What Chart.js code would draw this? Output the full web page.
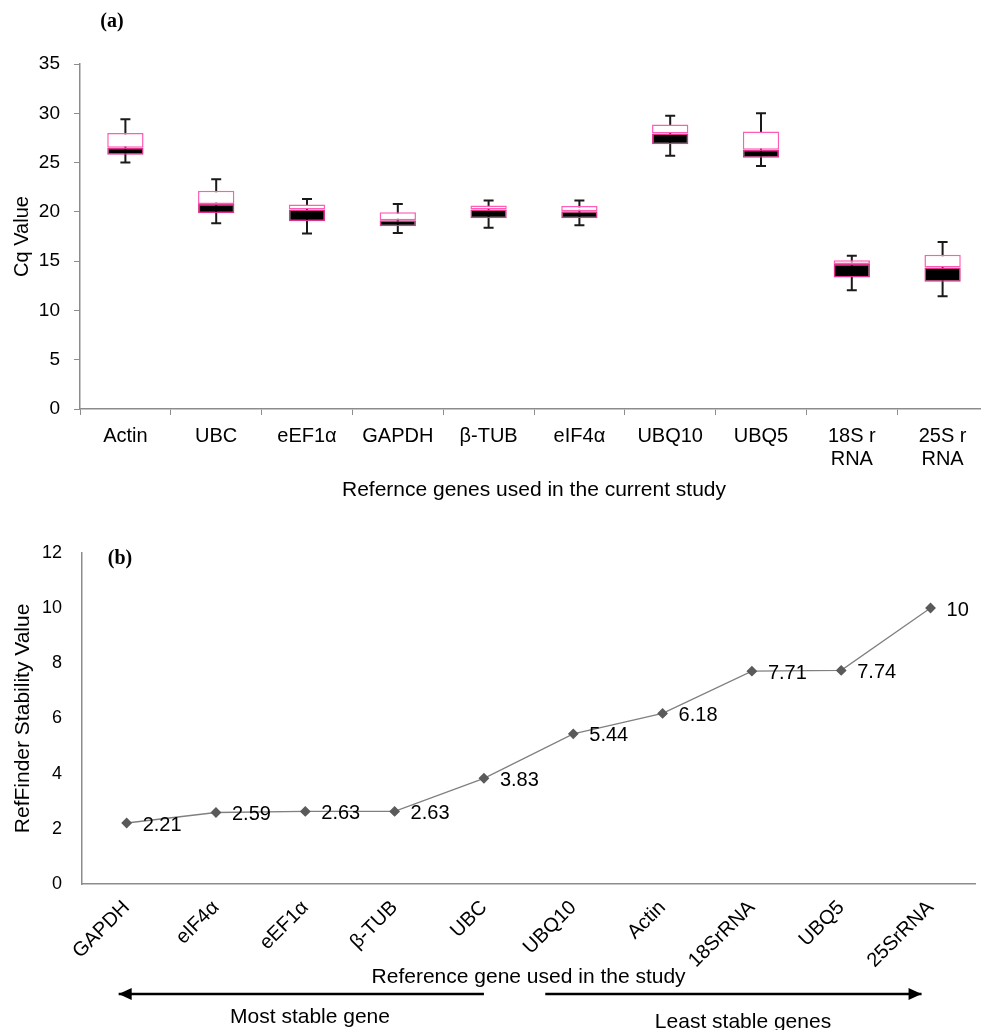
<!DOCTYPE html>
<html>
<head>
<meta charset="utf-8">
<script src="https://cdn.jsdelivr.net/npm/chart.js@4.4.1/dist/chart.umd.min.js"></script>
<style>
  html, body { margin: 0; padding: 0; background: #fff; overflow: hidden; width: 981px; height: 1030px; }
  #boxChart { position: absolute; left: 0; top: 0; }
  #lineChart { position: absolute; left: 0; top: 530px; }
</style>
</head>
<body>
<canvas id="boxChart" width="988" height="505"></canvas>
<canvas id="lineChart" width="981" height="500"></canvas>
<script>
// (a) Cq values per reference gene
const genesA = ['Actin', 'UBC', 'eEF1α', 'GAPDH', 'β-TUB', 'eIF4α', 'UBQ10', 'UBQ5', ['18S r', 'RNA'], ['25S r', 'RNA']];
const cqMin = [25.0, 18.85, 17.8, 17.85, 18.4, 18.65, 25.7, 24.65, 12.05, 11.45];
const cqQ1 = [25.8, 19.85, 19.05, 18.55, 19.35, 19.35, 26.85, 25.5, 13.35, 12.9];
const cqMedian = [26.5, 20.8, 20.25, 19.15, 20.25, 20.05, 27.95, 26.3, 14.7, 14.35];
const cqQ3 = [28.0, 22.15, 20.75, 19.95, 20.65, 20.6, 28.85, 28.15, 15.1, 15.65];
const cqMax = [29.4, 23.3, 21.3, 20.8, 21.15, 21.15, 29.75, 30.0, 15.55, 16.95];

// (b) RefFinder ranking
const genesB = ['GAPDH', 'eIF4α', 'eEF1α', 'β-TUB', 'UBC', 'UBQ10', 'Actin', '18SrRNA', 'UBQ5', '25SrRNA'];
const stability = [2.21, 2.59, 2.63, 2.63, 3.83, 5.44, 6.18, 7.71, 7.74, 10];

const FONT = "'Liberation Sans', Arial, sans-serif";
const AXIS = '#8c8c8c';

// whiskers for the box plot, drawn under the boxes
const whiskers = {
  id: 'whiskers',
  beforeDatasetsDraw(chart) {
    const { ctx, scales: { x, y } } = chart;
    ctx.save();
    ctx.strokeStyle = '#1a1a1a';
    ctx.lineWidth = 2;
    cqMin.forEach((lo, i) => {
      const px = x.getPixelForValue(i);
      const yLo = y.getPixelForValue(lo);
      const yHi = y.getPixelForValue(cqMax[i]);
      ctx.beginPath();
      ctx.moveTo(px, yLo); ctx.lineTo(px, yHi);
      ctx.moveTo(px - 5, yLo); ctx.lineTo(px + 5, yLo);
      ctx.moveTo(px - 5, yHi); ctx.lineTo(px + 5, yHi);
      ctx.stroke();
    });
    ctx.restore();
  }
};

const panelLabel = (text, px, py) => ({
  id: 'panelLabel',
  afterDraw(chart) {
    const ctx = chart.ctx;
    ctx.save();
    ctx.font = "bold 20px 'Liberation Serif', 'Times New Roman', serif";
    ctx.fillStyle = '#000';
    ctx.textAlign = 'center';
    ctx.textBaseline = 'middle';
    ctx.fillText(text, px, py);
    ctx.restore();
  }
});

new Chart(document.getElementById('boxChart'), {
  type: 'bar',
  data: {
    labels: genesA,
    datasets: [
      {
        label: 'Q1-median',
        data: cqQ1.map((v, i) => [v, cqMedian[i]]),
        backgroundColor: '#000',
        borderColor: '#e0338c',
        borderWidth: 1.5,
        borderSkipped: false,
        grouped: false,
        barPercentage: 0.8,
        categoryPercentage: 0.5
      },
      {
        label: 'median-Q3',
        data: cqMedian.map((v, i) => [v, cqQ3[i]]),
        backgroundColor: '#fff',
        borderColor: '#ff5cb5',
        borderWidth: 1.5,
        borderSkipped: false,
        grouped: false,
        barPercentage: 0.8,
        categoryPercentage: 0.5
      }
    ]
  },
  options: {
    responsive: false,
    animation: false,
    layout: { padding: { top: 64, left: 0, right: 0, bottom: 0 } },
    plugins: { legend: { display: false }, tooltip: { enabled: false } },
    scales: {
      x: {
        afterFit: (s) => { s.height = 96; },
        grid: { display: true, drawOnChartArea: false, drawTicks: true, tickLength: 6, tickColor: AXIS, offset: true },
        border: { display: true, color: AXIS, width: 1.5 },
        ticks: {
          color: '#000', padding: 10, autoSkip: false, maxRotation: 0, minRotation: 0,
          font: { family: FONT, size: 20, lineHeight: 1.15 }
        },
        title: {
          display: true, text: 'Refernce genes used in the current study', color: '#000',
          font: { family: FONT, size: 21 }, padding: { top: 0, bottom: 2 }
        }
      },
      y: {
        min: 0, max: 35,
        afterFit: (s) => { s.width = 80; },
        grid: { display: true, drawOnChartArea: false, drawTicks: true, tickLength: 6, tickColor: AXIS },
        border: { display: true, color: AXIS, width: 1.5 },
        ticks: { stepSize: 5, color: '#000', padding: 14, font: { family: FONT, size: 19 } },
        title: {
          display: true, text: 'Cq Value', color: '#000',
          font: { family: FONT, size: 20 }, padding: { top: 10, bottom: 0 }
        }
      }
    }
  },
  plugins: [whiskers, panelLabel('(a)', 112, 22)]
});

// value labels right of each point
const valueLabels = {
  id: 'valueLabels',
  afterDatasetsDraw(chart) {
    const ctx = chart.ctx;
    const meta = chart.getDatasetMeta(0);
    ctx.save();
    ctx.font = '20px ' + FONT;
    ctx.fillStyle = '#000';
    ctx.textAlign = 'left';
    ctx.textBaseline = 'middle';
    meta.data.forEach((pt, i) => {
      ctx.fillText(String(stability[i]), pt.x + 16, pt.y + 2);
    });
    ctx.restore();
  }
};

// stability direction arrows under the x axis
const arrows = {
  id: 'arrows',
  afterDraw(chart) {
    const { ctx, scales: { x } } = chart;
    const yLine = 464;
    const arrow = (x1, x2, headLeft) => {
      ctx.beginPath();
      ctx.moveTo(x1, yLine); ctx.lineTo(x2, yLine);
      ctx.stroke();
      const tip = headLeft ? x1 : x2;
      const dir = headLeft ? 1 : -1;
      ctx.beginPath();
      ctx.moveTo(tip, yLine);
      ctx.lineTo(tip + dir * 13, yLine - 6);
      ctx.lineTo(tip + dir * 13, yLine + 6);
      ctx.closePath();
      ctx.fill();
    };
    ctx.save();
    ctx.strokeStyle = '#000';
    ctx.fillStyle = '#000';
    ctx.lineWidth = 2.5;
    arrow(x.getPixelForValue(0) - 8, x.getPixelForValue(4), true);
    arrow(x.getPixelForValue(5) - 28, x.getPixelForValue(9) - 9, false);
    ctx.font = '21px ' + FONT;
    ctx.textAlign = 'center';
    ctx.textBaseline = 'middle';
    ctx.fillText('Most stable gene', 310, 487);
    ctx.fillText('Least stable genes', 743, 492);
    ctx.restore();
  }
};

new Chart(document.getElementById('lineChart'), {
  type: 'line',
  data: {
    labels: genesB,
    datasets: [{
      label: 'RefFinder',
      data: stability,
      borderColor: '#808080',
      borderWidth: 1.3,
      pointStyle: 'rectRot',
      pointRadius: 4.5,
      pointBackgroundColor: '#5a5a5a',
      pointBorderColor: '#5a5a5a',
      tension: 0,
      fill: false
    }]
  },
  options: {
    responsive: false,
    animation: false,
    layout: { padding: { top: 21, left: 0, right: 5, bottom: 0 } },
    plugins: { legend: { display: false }, tooltip: { enabled: false } },
    scales: {
      x: {
        offset: true,
        afterFit: (s) => { s.height = 146; },
        grid: { display: false },
        border: { display: true, color: AXIS, width: 1.5 },
        ticks: {
          color: '#000', padding: 4, autoSkip: false, maxRotation: 45, minRotation: 45,
          font: { family: FONT, size: 20 }
        },
        title: {
          display: true, text: 'Reference gene used in the study', color: '#000',
          font: { family: FONT, size: 21 }, padding: { top: 0, bottom: 40 }
        }
      },
      y: {
        min: 0, max: 12,
        afterFit: (s) => { s.width = 82; },
        grid: { display: false },
        border: { display: true, color: AXIS, width: 1.5 },
        ticks: { stepSize: 2, color: '#000', padding: 12, font: { family: FONT, size: 18 } },
        title: {
          display: true, text: 'RefFinder Stability Value', color: '#000',
          font: { family: FONT, size: 21 }, padding: { top: 11, bottom: 0 }
        }
      }
    }
  },
  plugins: [valueLabels, arrows, panelLabel('(b)', 120, 29)]
});
</script>
</body>
</html>
